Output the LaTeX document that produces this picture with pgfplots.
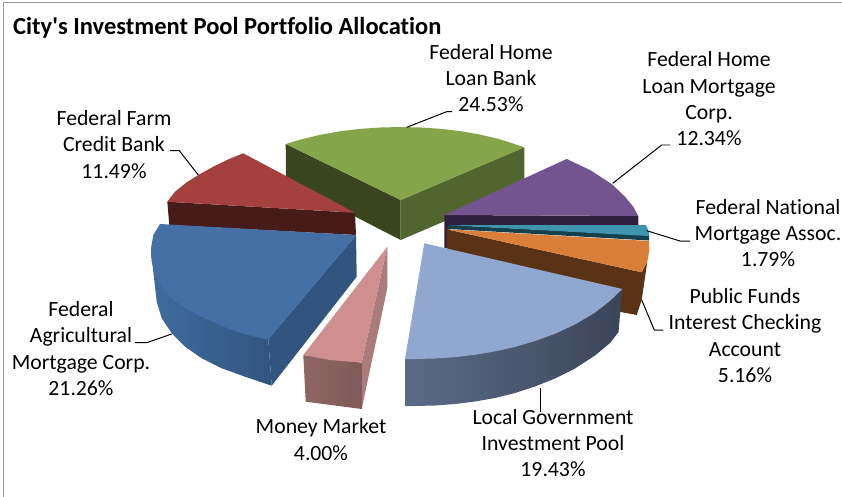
\documentclass[border=0pt]{standalone}
\usepackage{fontspec}
\setmainfont{Carlito}
\newfontfamily\calibri{Carlito}[Ligatures=NoCommon]
\usepackage{pgfplots}
\pgfplotsset{compat=1.18}
% colours
\definecolor{grntop}{HTML}{86A44A}
\definecolor{grnl}{HTML}{3A461E}
\definecolor{grnr}{HTML}{51652F}
\definecolor{redtop}{HTML}{A4413F}
\definecolor{redside}{HTML}{471B18}
\definecolor{blutop}{HTML}{4470A6}
\definecolor{blua}{HTML}{3F6C9F}
\definecolor{blub}{HTML}{32557F}
\definecolor{pnktop}{HTML}{CE8F8E}
\definecolor{pnka}{HTML}{8F6664}
\definecolor{pnkb}{HTML}{7F5A59}
\definecolor{pnkr}{HTML}{A97B7A}
\definecolor{ltbtop}{HTML}{90A7CF}
\definecolor{ltba}{HTML}{5B6B86}
\definecolor{ltbb}{HTML}{3B4559}
\definecolor{purtop}{HTML}{72548E}
\definecolor{purside}{HTML}{2F203F}
\definecolor{teltop}{HTML}{3F95AE}
\definecolor{telside}{HTML}{17404D}
\definecolor{orgtop}{HTML}{D97F3A}
\definecolor{orgside}{HTML}{5A3316}
\tikzset{
    lbl/.style={font=\calibri\fontsize{21.8}{26.4}\selectfont, align=center, text=black, inner sep=0pt},
    leader/.style={black, line width=1pt, no markers},
}
\begin{document}
\begin{tikzpicture}
\useasboundingbox (0,0) rectangle (842bp,497bp);
\begin{axis}[
    width=842bp, height=497bp, scale only axis,
    xmin=0, xmax=842, ymin=0, ymax=497, y dir=reverse,
    hide axis, clip=false,
]
% chart frame
\addplot[gray!80, line width=1pt, no markers] coordinates {(842,3) (3.5,3) (3.5,497)};

% Federal Home Loan Bank
\addplot[fill=grnl, draw=none] coordinates {(285.7,144) (400.7,200) (400.7,240) (286,181)} -- cycle;
\addplot[fill=grnr, draw=none] coordinates {(400.7,200) (524.3,147.3) (524.3,187) (400.7,240)} -- cycle;
\addplot[fill=grntop, draw=none] coordinates {(285.7,144) (300.7,139.5) (320.7,134.7) (340.7,131.2) (360.7,128.8) (380.7,127.5) (400.7,127) (420.7,127.5) (440.7,128.8) (460.7,131.2) (480.7,134.7) (500.7,139.5) (524.3,147.3) (400.7,200)} -- cycle;

% Federal Farm Credit Bank
\addplot[fill=redside, draw=none] coordinates {(167.3,201.7) (355,212.7) (356,235) (169.3,225)} -- cycle;
\addplot[fill=redtop, draw=none] coordinates {(167.3,201.7) (175,191.7) (186.7,182.3) (198.3,175) (213.3,166.7) (228.3,159.3) (243.3,153.3) (355,212.7)} -- cycle;

% Federal Agricultural Mortgage Corp.
\addplot[fill=blub, draw=none] coordinates {(356,235) (356.7,276.7) (271.7,385.7) (268.3,339.3)} -- cycle;
\addplot[left color=blua, right color=blub, draw=none] coordinates {(151,252) (153.3,271.7) (156.7,301.7) (161.7,318.3) (171.7,333.3) (185,346.7) (201.7,358.3) (221.7,368.3) (245,376.7) (271.7,385.7) (268.3,339.3) (205,318.3)} -- cycle;
\addplot[fill=blutop, draw=none] coordinates {(160,224) (153.3,235) (151,248.3) (151.7,261.7) (155,273.3) (161.7,286.7) (173.3,300) (188.3,310) (205,318.3) (225,327.3) (245,334.3) (268.3,339.8) (356,235)} -- cycle;

% Money Market
\addplot[fill=pnkr, draw=none] coordinates {(387.3,246.7) (387.3,288.3) (361.7,409) (361.7,362.7)} -- cycle;
\addplot[left color=pnka, right color=pnkb, draw=none] coordinates {(303.3,355) (361.7,362.7) (361.7,409) (305.7,401.7)} -- cycle;
\addplot[fill=pnktop, draw=none] coordinates {(387.3,246.7) (361.7,362.7) (330,360) (303.3,355)} -- cycle;

% Federal Home Loan Mortgage Corp.
\addplot[fill=purside, draw=none] coordinates {(444.3,215) (638.3,216) (638.3,225) (450,226) (450,248) (444.3,248)} -- cycle;
\addplot[fill=purtop, draw=none] coordinates {(444.3,215) (566.7,159) (590,170) (611.7,184) (625,196.7) (633.3,206.7) (638.3,216)} -- cycle;

% Public Funds Interest Checking Account
\addplot[fill=orgside, draw=none] coordinates {(446.7,229.3) (641.7,272.3) (647.3,261.7) (641.7,300) (636.7,315) (610,310) (446.7,248.3)} -- cycle;
\addplot[fill=orgtop, draw=none] coordinates {(446.7,229.3) (649,241) (649.3,250) (647.3,261.7) (641.7,272.3)} -- cycle;

% Federal National Mortgage Assoc.
\addplot[fill=telside, draw=none] coordinates {(448.3,225) (649,235.5) (649,240.5) (448.3,229)} -- cycle;
\addplot[fill=teltop, draw=none] coordinates {(448.3,225) (646,225) (649,232) (649,236)} -- cycle;

% Local Government Investment Pool
\addplot[left color=ltba, middle color=ltbb, right color=ltbb, draw=none] coordinates {(405,359) (405,406) (415,406) (435,405.5) (455,404) (475,401.5) (495,398) (515,393) (535,386.5) (555,378.5) (575,368.5) (595,355.5) (610,343) (618.5,332) (622.3,289)} -- cycle;
\addplot[fill=ltbtop, draw=none] coordinates {(424.3,243.3) (405,359) (415,359) (435,358.5) (455,357.1) (475,354.8) (495,351.4) (515,346.9) (535,341.1) (555,333.8) (575,324.5) (595,312.6) (610,300.9) (622.3,289)} -- cycle;

% leader lines
\addplot[leader] coordinates {(170,150.7) (179.3,150.7) (198.3,175)};
\addplot[leader] coordinates {(406.7,127.3) (446.7,111.7) (452,111.7)};
\addplot[leader] coordinates {(612.7,183.3) (661.7,145) (670,145)};
\addplot[leader] coordinates {(646.7,230.7) (680,241) (690,241)};
\addplot[leader] coordinates {(641.7,300) (654.3,330) (663.3,330)};
\addplot[leader] coordinates {(540,388.3) (540,411.7)};
\addplot[leader] coordinates {(171.7,334) (146.7,342.7) (135,342.7)};

% labels
\node[anchor=west, inner sep=0pt, font=\calibri\fontsize{24.6}{30}\selectfont\bfseries] at (axis cs:13,28) {City's Investment Pool Portfolio Allocation};
\node[lbl] at (axis cs:491,78) {Federal Home\\Loan Bank\\24.53\%};
\node[lbl] at (axis cs:709,99) {Federal Home\\Loan Mortgage\\Corp.\\12.34\%};
\node[lbl] at (axis cs:768,233) {Federal National\\Mortgage Assoc.\\1.79\%};
\node[lbl] at (axis cs:745,335.5) {Public Funds\\Interest Checking\\Account\\5.16\%};
\node[lbl] at (axis cs:553,443) {Local Government\\Investment Pool\\19.43\%};
\node[lbl] at (axis cs:321,439.5) {Money Market\\4.00\%};
\node[lbl] at (axis cs:81,348.5) {Federal\\Agricultural\\Mortgage Corp.\\21.26\%};
\node[lbl] at (axis cs:114,144.5) {Federal Farm\\Credit Bank\\11.49\%};
\end{axis}
\end{tikzpicture}
\end{document}
